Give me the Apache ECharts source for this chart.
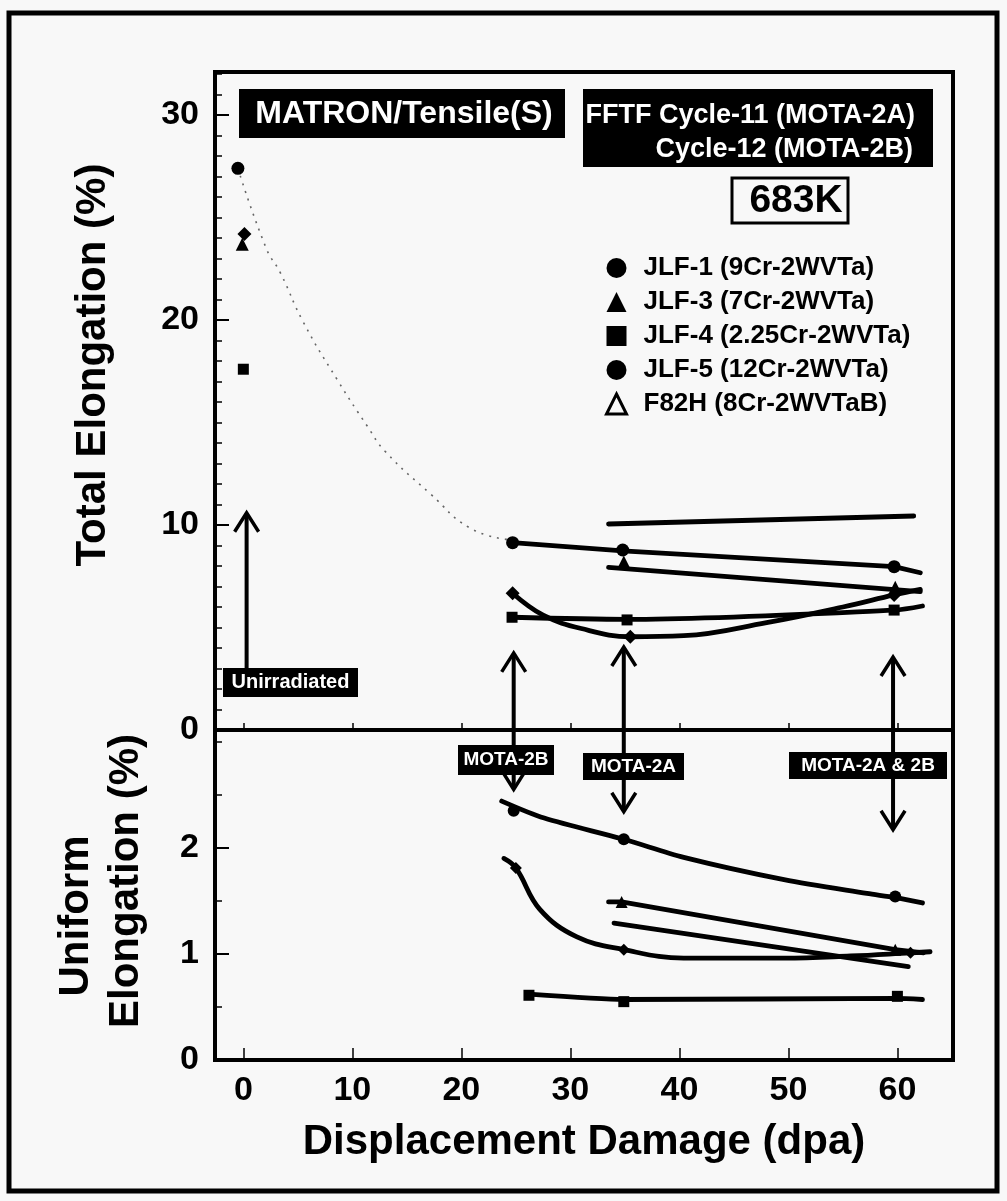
<!DOCTYPE html>
<html><head><meta charset="utf-8">
<script src="https://cdn.jsdelivr.net/npm/echarts@6/dist/echarts.min.js"></script>
<style>html,body{margin:0;padding:0;background:#f8f8f8}#c{width:1007px;height:1201px}</style>
</head><body><div id="c"></div>
<script>
const FONT = 'Liberation Sans';

// ---- axis ticks / labels ----
const xTickValues = [0, 10, 20, 30, 40, 50, 60];
const teLabels = [0, 10, 20, 30];
const teMajorTicks = [10, 20, 30];
const teMinorTicks = [1,2,3,4,5,6,7,8,9,11,12,13,14,15,16,17,18,19,21,22,23,24,25,26,27,28,29,31,32];
const ueLabels = [0, 1, 2];
const ueMajorTicks = [1, 2];
const ueMinorTicks = [0.5, 1.5, 2.5, 3.0];

// ---- series names ----
const names = ['JLF-1 (9Cr-2WVTa)', 'JLF-3 (7Cr-2WVTa)', 'JLF-4 (2.25Cr-2WVTa)', 'JLF-5 (12Cr-2WVTa)', 'F82H (8Cr-2WVTaB)'];

// ---- Total elongation (%) : data points [dpa, %] ----
const jlf1TE = [[-0.5, 27.4], [24.7, 9.14], [34.8, 8.78], [59.7, 7.97]];
const jlf3TE = [[-0.1, 23.7], [34.9, 8.2], [59.8, 6.97]];
const jlf4TE = [[0.0, 17.6], [24.65, 5.5], [35.2, 5.37], [59.7, 5.85]];
const jlf5TE = [[0.1, 24.2], [24.7, 6.67], [35.5, 4.55], [59.7, 6.59]];
// trend curves (total elongation)
const unirrTrendTE = [[-0.5, 27.4], [2.1, 23.5], [3.4, 22.3], [5.5, 19.9], [8.6, 17.1], [11.4, 14.8], [13.0, 13.6], [17.2, 11.5], [20.8, 9.85], [24.2, 9.3]];
const f82hLineTE = [[33.5, 10.05], [61.5, 10.44]];
const jlf1LineTE = [[24.7, 9.14], [34.8, 8.74], [59.7, 7.97], [62.1, 7.67]];
const jlf3LineTE = [[33.5, 7.93], [62.1, 6.75]];
const jlf4LineTE = [[24.65, 5.5], [35.2, 5.4], [59.7, 5.85], [62.3, 6.05]];
const jlf5LineTE = [[24.7, 6.67], [27.5, 5.6], [31.0, 4.95], [35.5, 4.55], [40.4, 4.6], [48.0, 5.24], [55.0, 6.0], [59.7, 6.59], [62.1, 6.86]];

// ---- Uniform elongation (%) ----
const jlf1UE = [[24.8, 2.35], [34.9, 2.08], [59.8, 1.54]];
const jlf3UE = [[34.7, 1.49], [59.8, 1.04]];
const jlf4UE = [[26.2, 0.61], [34.9, 0.55], [60.0, 0.60]];
const jlf5UE = [[25.0, 1.81], [34.9, 1.04], [61.2, 1.01]];
const jlf1LineUE = [[23.7, 2.44], [27.6, 2.28], [34.9, 2.08], [40.4, 1.91], [49.6, 1.70], [57.2, 1.57], [59.8, 1.53], [62.3, 1.48]];
const jlf3LineUE = [[33.5, 1.49], [34.7, 1.49], [59.8, 1.04], [62.4, 1.01]];
const f82hLineUE = [[34.0, 1.29], [61.0, 0.88]];
const jlf4LineUE = [[26.2, 0.62], [34.9, 0.57], [60.0, 0.58], [62.3, 0.57]];
const jlf5LineUE = [[23.9, 1.90], [25.0, 1.81], [27.2, 1.42], [30.6, 1.16], [34.9, 1.04], [40.4, 0.96], [49.6, 0.96], [55.7, 0.98], [61.2, 1.01], [63.0, 1.02]];

// ---- annotation arrows (dpa, top-panel tip %, bottom-panel tip %) ----
const arrowX = [24.8, 34.9, 59.6];
const arrowTopTip = [3.76, 4.05, 3.56];
const arrowBottomTip = [2.55, 2.34, 2.17];
const unirrArrow = { x: 0.3, from: 3.0, tip: 10.6 };

const chart = echarts.init(document.getElementById('c'), null, { renderer: 'canvas' });

const X_MIN = -2.6, X_MAX = 65.1, TE_MAX = 32.1, UE_MAX = 3.11;
const lineW = 4.8;

function xAxisCfg(grid, showLabels) {
  return {
    type: 'value', gridIndex: grid, min: X_MIN, max: X_MAX,
    axisLine: { show: false, onZero: false },
    splitLine: { show: false },
    axisTick: { show: true, inside: true, length: showLabels ? 12 : 7, customValues: xTickValues, lineStyle: { color: '#000', width: 1.5 } },
    axisLabel: showLabels ? { show: true, customValues: xTickValues, fontFamily: FONT, fontWeight: 'bold', fontSize: 34, color: '#000', margin: 14 } : { show: false },
    name: showLabels ? 'Displacement Damage (dpa)' : '',
    nameLocation: 'middle', nameGap: 61,
    nameTextStyle: { fontFamily: FONT, fontWeight: 'bold', fontSize: 42, color: '#000' }
  };
}
function yAxisCfg(grid, max, major, minor, labels) {
  return [{
    type: 'value', gridIndex: grid, min: 0, max: max, position: 'left',
    axisLine: { show: false, onZero: false }, splitLine: { show: false },
    axisTick: { show: true, inside: true, length: 14, customValues: major, lineStyle: { color: '#000', width: 2 } },
    axisLabel: { show: true, customValues: labels, fontFamily: FONT, fontWeight: 'bold', fontSize: 34, color: '#000', margin: 16 }
  }, {
    type: 'value', gridIndex: grid, min: 0, max: max, position: 'left',
    axisLine: { show: false, onZero: false }, splitLine: { show: false },
    axisTick: { show: true, inside: true, length: 7, customValues: minor, lineStyle: { color: '#000', width: 1.5 } },
    axisLabel: { show: false }
  }];
}

function lineSeries(name, data, xi, yi, smooth) {
  return { name: name, type: 'line', xAxisIndex: xi, yAxisIndex: yi, data: data, symbol: 'none', smooth: smooth,
    lineStyle: { color: '#000', width: lineW, cap: 'round' }, z: 3, silent: true };
}
function pointSeries(name, data, xi, yi, symbol, size) {
  return { name: name, type: 'scatter', xAxisIndex: xi, yAxisIndex: yi, data: data, symbol: symbol, symbolSize: size,
    itemStyle: { color: '#000', opacity: 1 }, z: 5, silent: true };
}

const option = {
  backgroundColor: '#f8f8f8',
  animation: false,
  textStyle: { fontFamily: FONT },
  grid: [
    { left: 215, top: 72, width: 738, height: 658, show: true, borderColor: '#000', borderWidth: 4, backgroundColor: 'transparent' },
    { left: 215, top: 730, width: 738, height: 330, show: true, borderColor: '#000', borderWidth: 4, backgroundColor: 'transparent' }
  ],
  xAxis: [xAxisCfg(0, false), xAxisCfg(1, true)],
  yAxis: [
    ...yAxisCfg(0, TE_MAX, teMajorTicks, teMinorTicks, teLabels),
    ...yAxisCfg(1, UE_MAX, ueMajorTicks, ueMinorTicks, ueLabels)
  ],
  legend: {
    orient: 'vertical', left: 600, top: 250, itemWidth: 20, itemHeight: 20, itemGap: 8,
    symbolKeepAspect: true, selectedMode: false,
    textStyle: { fontFamily: FONT, fontWeight: 'bold', fontSize: 26, color: '#000', padding: [0, 0, 0, 12] },
    data: [
      { name: names[0], icon: 'circle', itemStyle: { color: '#000' } },
      { name: names[1], icon: 'triangle', itemStyle: { color: '#000' } },
      { name: names[2], icon: 'rect', itemStyle: { color: '#000' } },
      { name: names[3], icon: 'circle', itemStyle: { color: '#000' } },
      { name: names[4], icon: 'triangle', itemStyle: { color: 'rgba(0,0,0,0)', borderColor: '#000', borderWidth: 3 } }
    ]
  },
  series: [
    { name: 'trend', type: 'line', xAxisIndex: 0, yAxisIndex: 0, data: unirrTrendTE, symbol: 'none', smooth: true,
      lineStyle: { color: '#666', width: 1.6, type: [2, 6] }, z: 2, silent: true },
    lineSeries(names[4], f82hLineTE, 0, 0, false),
    lineSeries(names[0], jlf1LineTE, 0, 0, false),
    lineSeries(names[1], jlf3LineTE, 0, 0, false),
    lineSeries(names[2], jlf4LineTE, 0, 0, 0.3),
    lineSeries(names[3], jlf5LineTE, 0, 0, 0.4),
    pointSeries(names[0], jlf1TE, 0, 0, 'circle', 13),
    pointSeries(names[1], jlf3TE, 0, 0, 'triangle', 13),
    pointSeries(names[2], jlf4TE, 0, 0, 'rect', 11),
    pointSeries(names[3], jlf5TE, 0, 0, 'diamond', 14),
    lineSeries(names[0], jlf1LineUE, 1, 2, 0.3),
    lineSeries(names[1], jlf3LineUE, 1, 2, false),
    lineSeries(names[4], f82hLineUE, 1, 2, false),
    lineSeries(names[2], jlf4LineUE, 1, 2, 0.2),
    lineSeries(names[3], jlf5LineUE, 1, 2, 0.4),
    pointSeries(names[0], jlf1UE, 1, 2, 'circle', 12),
    pointSeries(names[1], jlf3UE, 1, 2, 'triangle', 12),
    pointSeries(names[2], jlf4UE, 1, 2, 'rect', 11),
    pointSeries(names[3], jlf5UE, 1, 2, 'diamond', 12)
  ]
};
chart.setOption(option);

// ---- annotations (computed through the axes) ----
const g = [];
const black = '#000';
function head(px, tipY, dir) {
  return { type: 'polyline', shape: { points: [[px - 12, tipY + dir * 19], [px, tipY], [px + 12, tipY + dir * 19]] },
    style: { stroke: black, lineWidth: 3.5, fill: null, lineJoin: 'miter' }, z: 10 };
}
{
  const a = chart.convertToPixel({ xAxisIndex: 0, yAxisIndex: 0 }, [unirrArrow.x, unirrArrow.from]);
  const b = chart.convertToPixel({ xAxisIndex: 0, yAxisIndex: 0 }, [unirrArrow.x, unirrArrow.tip]);
  g.push({ type: 'line', shape: { x1: a[0], y1: a[1], x2: b[0], y2: b[1] + 1 }, style: { stroke: black, lineWidth: 4 }, z: 10 });
  g.push(head(b[0], b[1], 1));
}
for (let i = 0; i < arrowX.length; i++) {
  const t = chart.convertToPixel({ xAxisIndex: 0, yAxisIndex: 0 }, [arrowX[i], arrowTopTip[i]]);
  const bt = chart.convertToPixel({ xAxisIndex: 1, yAxisIndex: 2 }, [arrowX[i], arrowBottomTip[i]]);
  g.push({ type: 'line', shape: { x1: t[0], y1: t[1] + 1, x2: bt[0], y2: bt[1] - 1 }, style: { stroke: black, lineWidth: 4 }, z: 10 });
  g.push(head(t[0], t[1], 1));
  g.push(head(bt[0], bt[1], -1));
}
function box(x, y, w, h, text, size) {
  g.push({ type: 'rect', shape: { x: x, y: y, width: w, height: h }, style: { fill: black }, z: 20 });
  g.push({ type: 'text', x: x + w / 2, y: y + h / 2, style: { text: text, fill: '#fff', font: 'bold ' + size + 'px ' + FONT, align: 'center', verticalAlign: 'middle' }, z: 21 });
}
box(223, 668, 135, 29, 'Unirradiated', 20);
box(458, 745, 96, 30, 'MOTA-2B', 19);
box(583, 753, 101, 27, 'MOTA-2A', 19);
box(789, 752, 158, 27, 'MOTA-2A & 2B', 19);

// axis titles (y)
g.push({ type: 'text', x: 93, y: 365, rotation: Math.PI / 2, style: { text: 'Total Elongation (%)', fill: black, font: 'bold 42px ' + FONT, align: 'center', verticalAlign: 'middle' }, z: 21 });
g.push({ type: 'text', x: 76, y: 916, rotation: Math.PI / 2, style: { text: 'Uniform', fill: black, font: 'bold 42px ' + FONT, align: 'center', verticalAlign: 'middle' }, z: 21 });
g.push({ type: 'text', x: 126, y: 881, rotation: Math.PI / 2, style: { text: 'Elongation (%)', fill: black, font: 'bold 42px ' + FONT, align: 'center', verticalAlign: 'middle' }, z: 21 });

// title boxes
g.push({ type: 'rect', shape: { x: 239, y: 89, width: 326, height: 49 }, style: { fill: black }, z: 20 });
g.push({ type: 'text', x: 404, y: 114, style: { text: 'MATRON/Tensile(S)', fill: '#fff', font: 'bold 32px ' + FONT, align: 'center', verticalAlign: 'middle' }, z: 21 });
g.push({ type: 'rect', shape: { x: 583, y: 89, width: 350, height: 78 }, style: { fill: black }, z: 20 });
g.push({ type: 'text', x: 915, y: 116, style: { text: 'FFTF Cycle-11 (MOTA-2A)', fill: '#fff', font: 'bold 27px ' + FONT, align: 'right', verticalAlign: 'middle' }, z: 21 });
g.push({ type: 'text', x: 913, y: 150, style: { text: 'Cycle-12 (MOTA-2B)', fill: '#fff', font: 'bold 27px ' + FONT, align: 'right', verticalAlign: 'middle' }, z: 21 });
g.push({ type: 'rect', shape: { x: 732, y: 178, width: 116, height: 45 }, style: { fill: null, stroke: black, lineWidth: 3 }, z: 20 });
g.push({ type: 'text', x: 796, y: 201, style: { text: '683K', fill: black, font: 'bold 39px ' + FONT, align: 'center', verticalAlign: 'middle' }, z: 21 });
// outer frame
g.push({ type: 'rect', shape: { x: 9, y: 13, width: 988, height: 1178 }, style: { fill: null, stroke: black, lineWidth: 5 }, z: 30 });

chart.setOption({ graphic: g });
</script>
</body></html>
